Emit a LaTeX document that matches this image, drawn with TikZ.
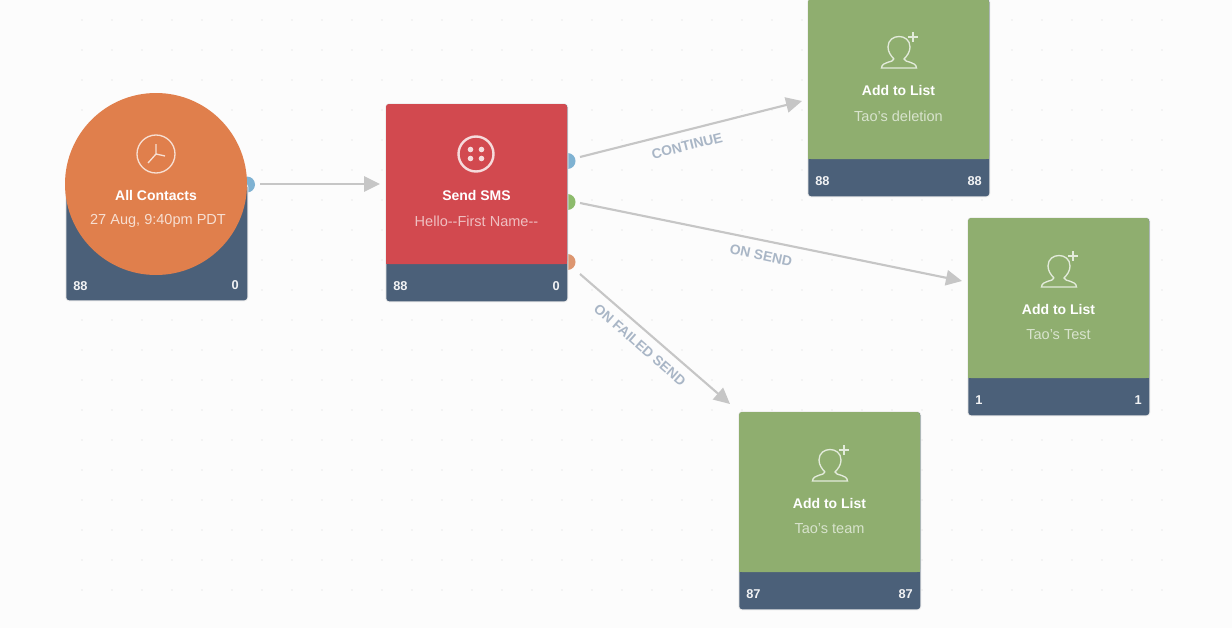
\documentclass[tikz,border=0pt]{standalone}
\usepackage{fontspec}
\setmainfont{Liberation Sans}
\usetikzlibrary{arrows.meta}
\definecolor{navy}{HTML}{4B6079}
\definecolor{leaf}{HTML}{8FAE6F}
\definecolor{brick}{HTML}{D2494F}
\definecolor{tang}{HTML}{E07F4C}
\definecolor{link}{HTML}{C6C6C6}
\definecolor{lab}{HTML}{A9B6C6}
\definecolor{griddot}{HTML}{EBEBEB}
\definecolor{portblue}{HTML}{7FB2D2}
\definecolor{portgreen}{HTML}{8DBB6C}
\definecolor{portorange}{HTML}{DD9670}
\tikzset{
  cardbase/.style={anchor=north west,inner sep=0pt,minimum width=135.75pt,minimum height=147.75pt,fill=navy,rounded corners=2.2pt,
     preaction={draw=black!8,line width=1.5pt}},
  title/.style={text=white,font=\fontsize{10.5}{12}\selectfont\bfseries,inner sep=0pt},
  sub/.style={font=\fontsize{10.9}{12}\selectfont,inner sep=0pt},
  count/.style={text=white!92!navy,font=\fontsize{9.6}{12}\selectfont\bfseries,inner sep=0pt},
  port/.style={circle,inner sep=0pt,minimum size=12pt},
  flow/.style={draw=link,line width=1.6pt,-{Triangle[length=12pt,width=11.5pt,color=link]}},
  edgetxt/.style={text=lab,font=\fontsize{10.4}{12}\selectfont\bfseries,inner sep=0pt},
  iconline/.style={draw=#1,line width=1pt}
}
\newcommand{\squarecard}[8]{% name,x,y,colour,title,subtitle,left,right
  \node[cardbase] (#1) at (#2,#3) {};
  \fill[#4,rounded corners=2.2pt] (#2,#3+160) -- (#2,#3) -- (#2+181,#3) -- (#2+181,#3+160) -- cycle;
  \fill[#4] (#2,#3+150) rectangle (#2+181,#3+160);
  \node[title] (#1t) at (#2+90.5,#3+91) {#5};
  \node[sub,text=#4!35!white] (#1s) at (#2+90.5,#3+117) {#6};
  \node[count,anchor=west] (#1l) at (#2+7,#3+182) {#7};
  \node[count,anchor=east] (#1r) at (#2+174,#3+182) {#8};
}
\newcommand{\personicon}[2]{% head centre x,y
  \begin{scope}[shift={(#1,#2)}]
    \draw[iconline=leaf!25!white] (-5,11) .. controls (-8,8) and (-11,4) .. (-11,-1)
       .. controls (-11,-15) and (11,-15) .. (11,-1)
       .. controls (11,4) and (8,8) .. (5,11) .. controls (6,15) and (17,13) .. (17.5,20)
       -- (-17.5,20) .. controls (-17,13) and (-6,15) .. (-5,11);
    \draw[iconline=leaf!25!white] (14,-16) -- (14,-6) (9,-11) -- (19,-11);
  \end{scope}
}
\begin{document}
\begin{tikzpicture}[x=0.75pt,y=-0.75pt]
\useasboundingbox (0,0) rectangle (1232,628);
\fill[white!99!black] (0,0) rectangle (1232,628);
\foreach \gx in {82,112,...,1162} \foreach \gy in {20,50,...,590}
  \fill[griddot] (\gx,\gy) circle (0.9);

% ports behind the cards
\node[port,fill=portblue] (p0) at (247,184.5) {};
\node[port,fill=portblue] (p1) at (567.5,161) {};
\node[port,fill=portgreen] (p2) at (567.5,202) {};
\node[port,fill=portorange] (p3) at (567.5,262) {};

% first card
\node[cardbase,minimum height=87pt] (c0) at (66,184) {};
\node[circle,fill=tang,inner sep=0pt,minimum size=136.5pt] (circ) at (156,184) {};
\draw[iconline=tang!25!white] (156,154) circle (19);
\draw[iconline=tang!25!white] (156,154) -- (156,144) (156,154) -- (148,163) (156,154) -- (165,156);
\node[title] (c0t) at (156,195) {All Contacts};
\node[sub,text=tang!25!white] (c0s) at (158,221) {27 Aug, 9:40pm PDT};
\node[count,anchor=west] (c0l) at (73,286) {88};
\node[count,anchor=east] (c0r) at (239,285) {0};

% Send SMS
\squarecard{c1}{386}{104}{brick}{Send SMS}{Hello{-}{-}First Name{-}{-}}{88}{0}
\draw[draw=brick!20!white,line width=1.8pt] (476,154) circle (17.5);
\foreach \dx/\dy in {-5.5/-4.5,5.5/-4.5,-5.5/4.5,5.5/4.5}
  \fill[brick!20!white] (476+\dx,154+\dy) circle (2.8);

% Add to List cards
\squarecard{c2}{808}{-1}{leaf}{Add to List}{Tao's deletion}{88}{88}
\personicon{899}{48}
\squarecard{c3}{968}{218}{leaf}{Add to List}{Tao's Test}{1}{1}
\personicon{1059}{267}
\squarecard{c4}{739}{412}{leaf}{Add to List}{Tao's team}{87}{87}
\personicon{830}{461}

% connectors
\coordinate (e0) at (380,184);
\coordinate (e1) at (802,101);
\coordinate (e2) at (962,281);
\coordinate (e3) at (730,404);
\coordinate (s0) at (260,184);
\coordinate (s1) at (580,157);
\coordinate (s2) at (580,203);
\coordinate (s3) at (580,274);
\draw[flow] (s0) -- (e0);
\draw[flow] (s1) -- (e1);
\draw[flow] (s2) -- (e2);
\draw[flow] (s3) -- (e3);

\node[edgetxt,rotate=14] (l1) at (687,146) {CONTINUE};
\node[edgetxt,rotate=-12] (l2) at (761,255) {ON SEND};
\node[edgetxt,rotate=-41] (l3) at (640,345) {ON FAILED SEND};
\end{tikzpicture}
\end{document}
